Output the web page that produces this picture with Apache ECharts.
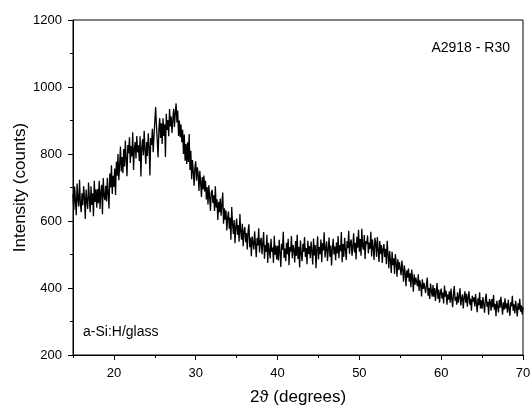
<!DOCTYPE html>
<html>
<head>
<meta charset="utf-8">
<script src="https://cdn.jsdelivr.net/npm/echarts@6/dist/echarts.min.js"></script>
<style>
html, body { margin: 0; padding: 0; background: #fff; }
#chart { width: 532px; height: 406px; }
</style>
</head>
<body>
<div id="chart"></div>
<script>
// 2theta scan, 15..70 deg, one reading every 0.1 deg
var startAngle = 15;
var stepAngle = 0.1;

var intensity = [
	680, 633, 703, 660, 617, 712, 665, 643, 723, 654,
	626, 683, 647, 704, 670, 606, 694, 659, 636, 715,
	668, 626, 704, 648, 683, 614, 720, 657, 695, 640,
	695, 653, 720, 636, 686, 708, 620, 728, 674, 662,
	705, 658, 729, 680, 637, 742, 700, 766, 681, 735,
	702, 757, 678, 777, 735, 800, 722, 768, 822, 748,
	791, 743, 815, 763, 840, 784, 734, 827, 802, 850,
	773, 824, 793, 865, 752, 815, 836, 787, 854, 805,
	826, 779, 853, 733, 818, 844, 796, 869, 811, 770,
	836, 794, 862, 823, 736, 848, 827, 875, 805, 854,
	859, 940, 886, 839, 790, 875, 907, 848, 892, 830,
	907, 854, 889, 791, 920, 872, 901, 853, 934, 882,
	912, 863, 902, 935, 881, 923, 951, 894, 930, 854,
	900, 850, 888, 835, 872, 800, 858, 780, 830, 770,
	835, 776, 860, 752, 810, 725, 782, 748, 705, 760,
	778, 720, 760, 740, 690, 750, 714, 672, 731, 694,
	736, 688, 720, 664, 701, 649, 707, 670, 631, 685,
	693, 654, 677, 630, 704, 640, 665, 603, 657, 626,
	667, 616, 650, 685, 592, 638, 604, 631, 572, 610,
	628, 577, 610, 544, 642, 591, 561, 603, 534, 583,
	607, 559, 588, 538, 621, 567, 544, 592, 525, 570,
	582, 537, 564, 515, 569, 590, 522, 551, 495, 554,
	557, 515, 569, 531, 492, 549, 527, 578, 506, 540,
	550, 501, 534, 567, 487, 528, 508, 559, 475, 535,
	535, 488, 547, 508, 521, 475, 556, 499, 527, 485,
	526, 482, 544, 506, 463, 532, 514, 568, 490, 518,
	480, 535, 501, 547, 468, 522, 508, 555, 489, 528,
	515, 476, 540, 496, 559, 487, 523, 461, 542, 503,
	480, 532, 508, 552, 493, 519, 471, 541, 502, 525,
	489, 539, 510, 470, 548, 497, 528, 459, 516, 554,
	485, 522, 501, 545, 477, 534, 512, 566, 491, 518,
	539, 481, 514, 551, 493, 527, 467, 518, 547, 500,
	524, 483, 536, 503, 555, 489, 528, 510, 567, 477,
	531, 493, 550, 513, 484, 540, 519, 571, 502, 535,
	545, 496, 523, 563, 506, 535, 485, 553, 520, 574,
	508, 546, 496, 577, 525, 514, 558, 487, 540, 531,
	557, 503, 536, 517, 568, 494, 545, 521, 484, 550,
	535, 493, 552, 513, 478, 540, 502, 528, 475, 516,
	531, 493, 517, 471, 541, 500, 459, 510, 483, 445,
	508, 468, 489, 442, 501, 474, 434, 486, 454, 477,
	476, 438, 482, 455, 419, 468, 444, 405, 453, 431,
	458, 419, 444, 402, 455, 428, 389, 441, 410, 431,
	432, 405, 441, 391, 423, 408, 375, 426, 397, 415,
	418, 385, 410, 431, 377, 400, 367, 413, 391, 374,
	409, 374, 400, 361, 389, 415, 368, 395, 356, 386,
	398, 368, 386, 354, 407, 374, 392, 350, 381, 365,
	390, 356, 398, 368, 343, 382, 406, 362, 374, 350,
	387, 356, 374, 399, 348, 368, 381, 339, 371, 390,
	356, 383, 344, 372, 390, 350, 368, 332, 377, 359,
	372, 345, 382, 355, 328, 369, 349, 387, 339, 363,
	338, 373, 352, 326, 364, 383, 344, 359, 320, 367,
	359, 332, 367, 343, 379, 335, 353, 316, 362, 344,
	327, 365, 341, 374, 348, 320, 357, 335, 369, 339,
	354, 326, 365, 338, 317, 357, 345, 377, 332, 351,
	324, 362, 341, 315, 354, 335, 368, 329, 348, 321,
	343
];

var xMajorTicks = [20, 30, 40, 50, 60, 70];
var xMinorTicks = [15, 25, 35, 45, 55, 65];
var sampleLabel = 'a-Si:H/glass';
var runLabel = 'A2918 - R30';

var points = [];
for (var i = 0; i < intensity.length; i++)
{
	points.push([+(startAngle + i * stepAngle).toFixed(1), intensity[i]]);
}

var font = 'Liberation Sans, Arial, sans-serif';
var chart = echarts.init(document.getElementById('chart'), null, { renderer: 'canvas' });

var options =
{
	animation: false,
	grid: {
		left: 73, right: 9, top: 20, bottom: 51,
		outerBoundsMode: 'none', containLabel: false,
		show: true, borderColor: '#000', borderWidth: 1, backgroundColor: 'transparent'
	},
	xAxis: [
		{
			type: 'value', min: 15, max: 70,
			name: '2\u03d1 (degrees)', nameLocation: 'middle', nameGap: 34, nameMoveOverlap: false,
			nameTextStyle: { fontFamily: font, fontSize: 17, color: '#000' },
			axisLine: { onZero: false, lineStyle: { color: '#000', width: 1 } },
			axisTick: { customValues: xMajorTicks, length: 5, lineStyle: { color: '#000' } },
			axisLabel: { customValues: xMajorTicks, fontFamily: font, fontSize: 13, color: '#000', margin: 12 },
			splitLine: { show: false }
		},
		{
			type: 'value', min: 15, max: 70, position: 'bottom',
			axisLine: { show: false },
			axisTick: { customValues: xMinorTicks, length: 3, lineStyle: { color: '#000' } },
			axisLabel: { show: false },
			splitLine: { show: false }
		}
	],
	yAxis: {
		type: 'value', min: 200, max: 1200, interval: 200,
		name: 'Intensity (counts)', nameLocation: 'middle', nameGap: 44, nameMoveOverlap: false,
		nameTextStyle: { fontFamily: font, fontSize: 17, color: '#000' },
		axisLine: { show: true, lineStyle: { color: '#000', width: 1 } },
		axisTick: { show: true, length: 5, lineStyle: { color: '#000' } },
		minorTick: { show: true, splitNumber: 2, length: 3, lineStyle: { color: '#000' } },
		axisLabel: {
			fontFamily: font, fontSize: 13, color: '#000', margin: 11,
			formatter: function(v) { return String(v); }
		},
		splitLine: { show: false }
	},
	graphic: [
		{ type: 'text', right: 22, top: 41, style: { text: runLabel, font: '14px ' + font, fill: '#000' } },
		{ type: 'text', left: 83, top: 325, style: { text: sampleLabel, font: '14px ' + font, fill: '#000' } }
	],
	series: [{
		type: 'line',
		xAxisIndex: 0,
		data: points,
		showSymbol: false,
		lineStyle: { color: '#000', width: 1.3 },
		silent: true
	}]
};

chart.setOption(options);
</script>
</body>
</html>
